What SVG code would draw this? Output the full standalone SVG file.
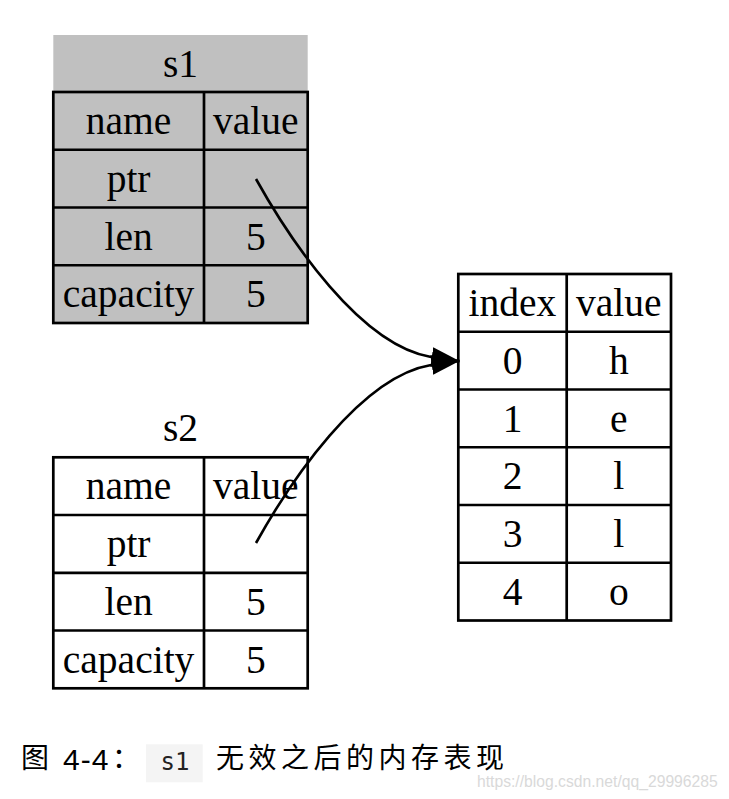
<svg xmlns="http://www.w3.org/2000/svg" width="729" height="799" viewBox="0 0 729 799">
<style>
.cell{fill:none;stroke:#000;stroke-width:2.7}
.grid{stroke:#000;stroke-width:2.7}
.t{font-family:"Liberation Serif","Times New Roman",serif;font-size:39.5px;fill:#000;text-anchor:middle}
.edge{fill:none;stroke:#000;stroke-width:2.6}
.cjk{font-family:"Noto Sans CJK SC","Noto Sans",sans-serif;font-size:28px;fill:#000}
</style>
<defs>
<marker id="arrow" viewBox="0 0 28 20" refX="28" refY="10" markerWidth="28" markerHeight="20" markerUnits="userSpaceOnUse" orient="auto">
<path d="M0,0 L28,10 L0,20 z" fill="#000"/>
</marker>
</defs>
<rect width="729" height="799" fill="#fff"/>

<g id="s1">
<rect x="53.3" y="35" width="254.4" height="57" fill="#c0c0c0"/>
<text class="t" x="180.5" y="76.5">s1</text>
<rect x="53.3" y="92" width="254.4" height="231" fill="#c0c0c0"/>
<line class="grid" x1="204" y1="92" x2="204" y2="323"/>
<line class="grid" x1="53.3" y1="149.75" x2="307.7" y2="149.75"/>
<line class="grid" x1="53.3" y1="207.5" x2="307.7" y2="207.5"/>
<line class="grid" x1="53.3" y1="265.25" x2="307.7" y2="265.25"/>
<rect class="cell" x="53.3" y="92" width="254.4" height="231"/>
<text class="t" x="128.6" y="134">name</text>
<text class="t" x="255.8" y="134">value</text>
<text class="t" x="128.6" y="191.8">ptr</text>
<text class="t" x="128.6" y="249.5">len</text>
<text class="t" x="255.8" y="249.5">5</text>
<text class="t" x="128.6" y="307.3">capacity</text>
<text class="t" x="255.8" y="307.3">5</text>
</g>

<g id="s2">
<text class="t" x="180.5" y="441">s2</text>
<line class="grid" x1="204" y1="457.3" x2="204" y2="688.3"/>
<line class="grid" x1="53.3" y1="515" x2="307.7" y2="515"/>
<line class="grid" x1="53.3" y1="572.8" x2="307.7" y2="572.8"/>
<line class="grid" x1="53.3" y1="630.5" x2="307.7" y2="630.5"/>
<rect class="cell" x="53.3" y="457.3" width="254.4" height="231"/>
<text class="t" x="128.6" y="499.2">name</text>
<text class="t" x="255.8" y="499.2">value</text>
<text class="t" x="128.6" y="557">ptr</text>
<text class="t" x="128.6" y="614.7">len</text>
<text class="t" x="255.8" y="614.7">5</text>
<text class="t" x="128.6" y="672.5">capacity</text>
<text class="t" x="255.8" y="672.5">5</text>
</g>

<g id="heap">
<line class="grid" x1="566.7" y1="274" x2="566.7" y2="620.5"/>
<line class="grid" x1="458.3" y1="331.75" x2="671" y2="331.75"/>
<line class="grid" x1="458.3" y1="389.5" x2="671" y2="389.5"/>
<line class="grid" x1="458.3" y1="447.25" x2="671" y2="447.25"/>
<line class="grid" x1="458.3" y1="505" x2="671" y2="505"/>
<line class="grid" x1="458.3" y1="562.75" x2="671" y2="562.75"/>
<rect class="cell" x="458.3" y="274" width="212.7" height="346.5"/>
<text class="t" x="512.5" y="316">index</text>
<text class="t" x="618.8" y="316">value</text>
<text class="t" x="512.5" y="373.7">0</text>
<text class="t" x="618.8" y="373.7">h</text>
<text class="t" x="512.5" y="431.5">1</text>
<text class="t" x="618.8" y="431.5">e</text>
<text class="t" x="512.5" y="489.2">2</text>
<text class="t" x="618.8" y="489.2">l</text>
<text class="t" x="512.5" y="547">3</text>
<text class="t" x="618.8" y="547">l</text>
<text class="t" x="512.5" y="604.7">4</text>
<text class="t" x="618.8" y="604.7">o</text>
</g>

<g id="edges">
<path class="edge" d="M256,179 C290,240 360,345 431,357 L459.5,361" marker-end="url(#arrow)"/>
<path class="edge" d="M256,543 C290,482 360,377 431,365 L459.5,361" marker-end="url(#arrow)"/>
</g>

<g id="caption">
<text class="cjk" x="21" y="768">图</text>
<text x="63" y="770" font-family="Liberation Sans, Arial, sans-serif" font-size="30" letter-spacing="1" fill="#000">4-4</text>
<text class="cjk" x="112" y="768">：</text>
<rect x="146" y="744.3" width="56.7" height="38" fill="#f4f4f4"/>
<text x="160.5" y="770" font-family="DejaVu Sans Mono, monospace" font-size="24" fill="#222">s1</text>
<text class="cjk" x="216" y="768" letter-spacing="4.5">无效之后的内存表现</text>
<text x="477" y="787" font-family="Liberation Sans, Arial, sans-serif" font-size="15.7" fill="#d9d9d9">https://blog.csdn.net/qq_29996285</text>
</g>
</svg>
